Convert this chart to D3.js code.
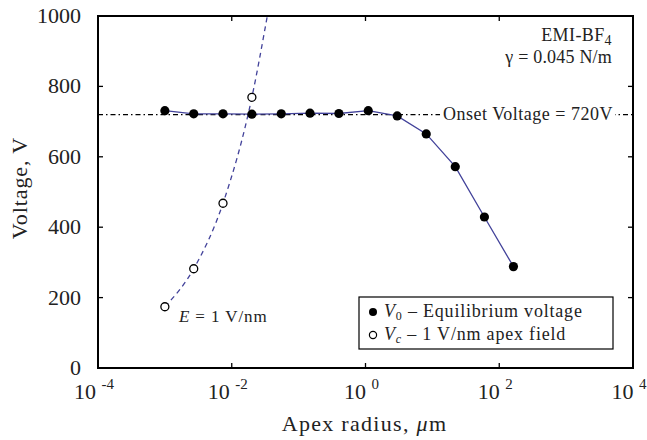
<!DOCTYPE html>
<html lang="en">
<head>
    <meta charset="UTF-8">
    <script src="https://d3js.org/d3.v7.min.js"></script>
    <style>
        body { margin: 0; background: #fff; }
        text { font-family: "Liberation Serif", "Times New Roman", serif; fill: #222; }
    </style>
</head>
<body>
    <script>
        // apex radius (um) for each point
        var radius = [0.001, 0.0027, 0.0074, 0.020, 0.055, 0.148, 0.40, 1.10, 2.98, 8.1, 22, 60, 163]
        // V0 - equilibrium voltage
        var v0 = [731, 722, 722, 721, 722, 724, 723, 731, 716, 665, 572, 429, 288]
        // Vc - 1 V/nm apex field (only first four radii)
        var vcRadius = [0.001, 0.0027, 0.0074, 0.020]
        var vc = [174, 282, 468, 769]
        // dashed trend of Vc, runs out past the top of the frame
        var vcTrendRadius = [0.001, 0.0027, 0.0074, 0.020, 0.034]
        var vcTrend = [174, 282, 468, 769, 1000]
        var onset = 720
        var xTicks = [-4, -2, 0, 2, 4]   // exponents
        var yTicks = [0, 200, 400, 600, 800, 1000]

        var W = 647, H = 440
        var margin = { left: 98, top: 16, right: 14, bottom: 72 }
        var width = W - margin.left - margin.right,
            height = H - margin.top - margin.bottom

        var blue = "#42429a"

        var svg = d3.select("body").append("svg")
            .attr("width", W)
            .attr("height", H)

        var g = svg.append("g").attr("transform", "translate(" + margin.left + "," + margin.top + ")")

        var x = d3.scaleLog().domain([1e-4, 1e4]).range([0, width])
        var y = d3.scaleLinear().domain([0, 1000]).range([height, 0])

        svg.append("clipPath").attr("id", "clip")
            .append("rect").attr("width", width).attr("height", height)

        // ticks, pointing inward on all four sides
        var tk = 5
        var inner = xTicks.slice(1, -1)
        g.selectAll(".xtb").data(inner).join("line")
            .attr("x1", function (d) { return x(Math.pow(10, d)) })
            .attr("x2", function (d) { return x(Math.pow(10, d)) })
            .attr("y1", height).attr("y2", height - tk)
            .attr("stroke", "#000").attr("stroke-width", 1.3)
        g.selectAll(".xtt").data(inner).join("line")
            .attr("x1", function (d) { return x(Math.pow(10, d)) })
            .attr("x2", function (d) { return x(Math.pow(10, d)) })
            .attr("y1", 0).attr("y2", tk)
            .attr("stroke", "#000").attr("stroke-width", 1.3)
        var yin = yTicks.slice(1, -1)
        g.selectAll(".ytl").data(yin).join("line")
            .attr("x1", 0).attr("x2", tk)
            .attr("y1", function (d) { return y(d) })
            .attr("y2", function (d) { return y(d) })
            .attr("stroke", "#000").attr("stroke-width", 1.3)
        g.selectAll(".ytr").data(yin).join("line")
            .attr("x1", width).attr("x2", width - tk)
            .attr("y1", function (d) { return y(d) })
            .attr("y2", function (d) { return y(d) })
            .attr("stroke", "#000").attr("stroke-width", 1.3)

        // tick labels
        g.selectAll(".ylab").data(yTicks).join("text")
            .attr("x", -17)
            .attr("y", function (d) { return y(d) + 7 })
            .attr("text-anchor", "end")
            .attr("font-size", 22)
            .text(function (d) { return d })

        var xl = g.selectAll(".xlab").data(xTicks).join("text")
            .attr("x", function (d) { return x(Math.pow(10, d)) - 4 })
            .attr("y", height + 31)
            .attr("text-anchor", "middle")
            .attr("font-size", 22)
        xl.append("tspan").text("10 ")
        xl.append("tspan").attr("dy", -10).attr("font-size", 15)
            .text(function (d) { return d < 0 ? "-" + (-d) : d })

        // axis titles
        svg.append("text")
            .attr("x", margin.left + x(1) - 1)
            .attr("y", 431)
            .attr("text-anchor", "middle")
            .attr("font-size", 22)
            .attr("letter-spacing", 1.3)
            .html('Apex radius, <tspan font-style="italic">μ</tspan>m')
        svg.append("text")
            .attr("transform", "translate(27,188) rotate(-90)")
            .attr("text-anchor", "middle")
            .attr("font-size", 22)
            .attr("letter-spacing", 0.9)
            .text("Voltage, V")

        // onset voltage reference line
        g.append("line")
            .attr("x1", 0).attr("x2", width)
            .attr("y1", y(onset)).attr("y2", y(onset))
            .attr("stroke", "#000").attr("stroke-width", 1.2)
            .attr("stroke-dasharray", "5,3,1.5,3")
        var onsetText = g.append("text")
            .attr("x", width - 20)
            .attr("y", y(onset) + 5)
            .attr("text-anchor", "end")
            .attr("font-size", 18)
            .attr("letter-spacing", 0.5)
            .text("Onset Voltage = " + onset + "V")
        var bb = onsetText.node().getBBox()
        g.insert("rect", "text:last-of-type")
            .attr("x", bb.x - 3).attr("y", bb.y + 2).attr("width", bb.width + 5).attr("height", bb.height - 4)
            .attr("fill", "#fff")

        // Vc dashed trend
        var line = d3.line()
            .x(function (d) { return x(d[0]) })
            .y(function (d) { return y(d[1]) })
            .curve(d3.curveMonotoneX)
        g.append("path")
            .datum(vcTrendRadius.map(function (r, i) { return [r, vcTrend[i]] }))
            .attr("clip-path", "url(#clip)")
            .attr("d", line)
            .attr("fill", "none")
            .attr("stroke", blue).attr("stroke-width", 1.3)
            .attr("stroke-dasharray", "5,4")

        // V0 solid line
        var v0pts = radius.map(function (r, i) { return [r, v0[i]] })
        g.append("path")
            .datum(v0pts)
            .attr("d", d3.line().x(function (d) { return x(d[0]) }).y(function (d) { return y(d[1]) }))
            .attr("fill", "none")
            .attr("stroke", blue).attr("stroke-width", 1.3)

        g.selectAll(".v0").data(v0pts).join("circle")
            .attr("cx", function (d) { return x(d[0]) })
            .attr("cy", function (d) { return y(d[1]) })
            .attr("r", 4.6)
            .attr("fill", "#000")

        g.selectAll(".vc").data(vcRadius.map(function (r, i) { return [r, vc[i]] })).join("circle")
            .attr("cx", function (d) { return x(d[0]) })
            .attr("cy", function (d) { return y(d[1]) })
            .attr("r", 4)
            .attr("fill", "#fff")
            .attr("stroke", "#000").attr("stroke-width", 1.3)

        // frame
        g.append("rect")
            .attr("width", width).attr("height", height)
            .attr("fill", "none").attr("stroke", "#000").attr("stroke-width", 2)

        // annotations
        g.append("text")
            .attr("x", x(vcRadius[0]) + 14).attr("y", y(vc[0]) + 15)
            .attr("font-size", 17)
            .attr("letter-spacing", 0.9)
            .html('<tspan font-style="italic">E</tspan> = 1 V/nm')

        var emi = g.append("text")
            .attr("x", width - 21).attr("y", 25)
            .attr("text-anchor", "end")
            .attr("font-size", 18)
            .attr("letter-spacing", 0.4)
        emi.append("tspan").text("EMI-BF")
        emi.append("tspan").attr("dy", 4).attr("font-size", 14).text("4")
        g.append("text")
            .attr("x", width - 21).attr("y", 47)
            .attr("text-anchor", "end")
            .attr("font-size", 18)
            .attr("letter-spacing", 0.2)
            .text("γ = 0.045 N/m")

        // legend
        var lg = g.append("g").attr("transform", "translate(" + (359 - margin.left) + "," + (297 - margin.top) + ")")
        lg.append("rect").attr("width", 254).attr("height", 52)
            .attr("fill", "#fff").attr("stroke", "#000").attr("stroke-width", 1.2)
        lg.append("circle").attr("cx", 14).attr("cy", 15).attr("r", 4).attr("fill", "#000")
        lg.append("circle").attr("cx", 14).attr("cy", 38).attr("r", 3.6)
            .attr("fill", "#fff").attr("stroke", "#000").attr("stroke-width", 1.2)
        lg.append("text").attr("x", 25).attr("y", 20).attr("font-size", 18).attr("letter-spacing", 0.8)
            .html('<tspan font-style="italic">V</tspan><tspan font-size="12" dy="3">0</tspan><tspan dy="-3"> – Equilibrium voltage</tspan>')
        lg.append("text").attr("x", 25).attr("y", 43).attr("font-size", 18).attr("letter-spacing", 0.8)
            .html('<tspan font-style="italic">V</tspan><tspan font-size="12" font-style="italic" dy="3">c</tspan><tspan dy="-3"> – 1 V/nm apex field</tspan>')
    </script>
</body>
</html>
